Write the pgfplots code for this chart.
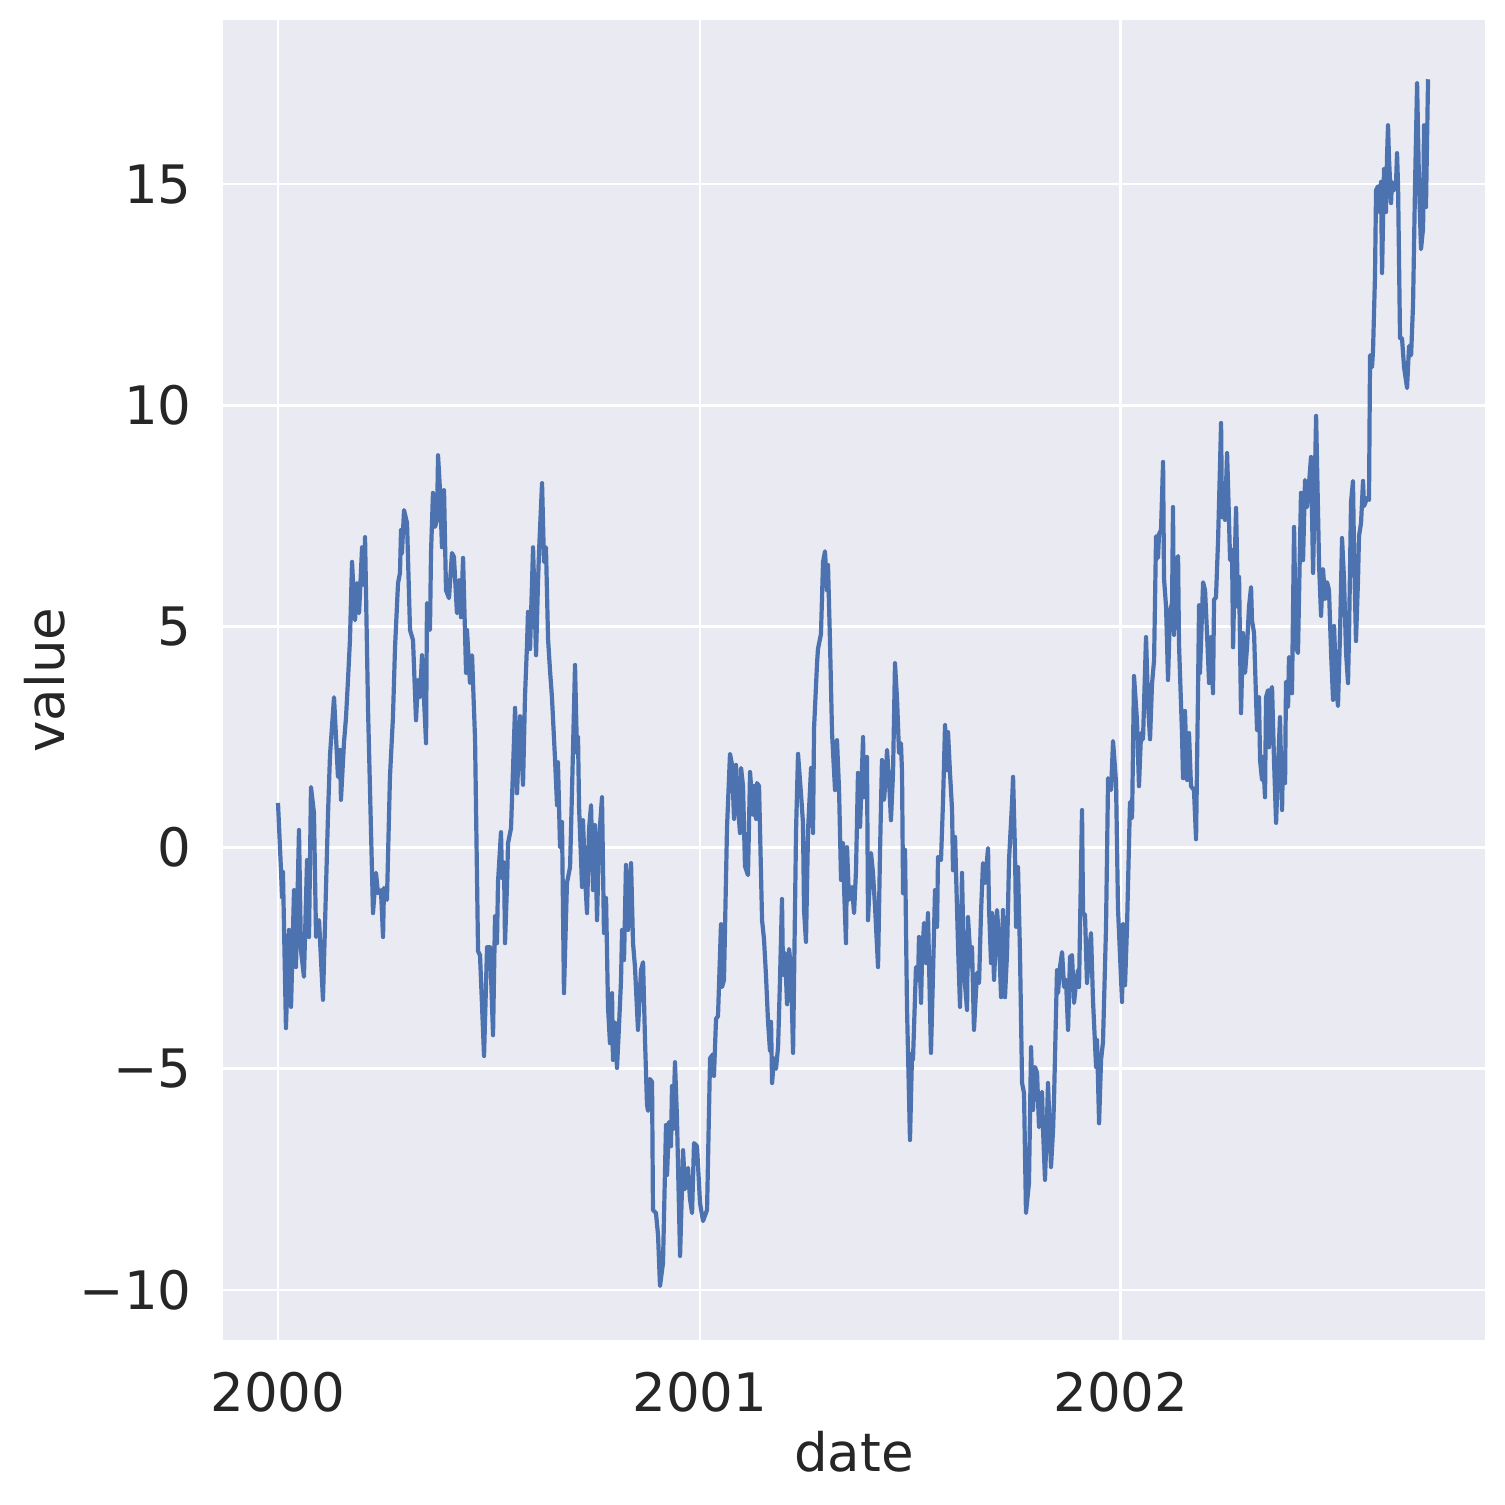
\documentclass[border=0pt]{standalone}
\usepackage{pgfplots}
\pgfplotsset{compat=1.18}
\usepackage{fontspec}
\setmainfont{DejaVu Sans}
\definecolor{sbbg}{HTML}{EAEAF2}
\definecolor{sbblue}{HTML}{4C72B0}
\definecolor{sbtext}{HTML}{262626}
\begin{document}
\begin{tikzpicture}
\useasboundingbox (0,0) rectangle (752.5bp,752.5bp);
\begin{axis}[
  at={(111.5bp,82.5bp)}, anchor=south west,
  width=631bp, height=660bp, scale only axis,
  xmin=-47.7, xmax=1046.8, ymin=-11.13, ymax=18.71,
  axis background/.style={fill=sbbg},
  axis line style={draw=none},
  major tick length=0pt,
  grid=major,
  grid style={white, line width=1.4bp},
  xtick={0,366,731}, xticklabels={2000,2001,2002},
  ytick={-10,-5,0,5,10,15}, yticklabels={−10,−5,0,5,10,15},
  ticklabel style={font=\fontsize{26.5bp}{32bp}\selectfont, text=sbtext},
  xticklabel style={inner sep=0pt, anchor=north, yshift=-16bp},
  yticklabel style={inner sep=0pt, anchor=east, xshift=-15.5bp},
  xlabel={date}, ylabel={value},
  label style={font=\fontsize{26.5bp}{32bp}\selectfont, text=sbtext},
  xlabel style={at={(axis description cs:0.5,-0.085)}, anchor=center, inner sep=0pt},
  ylabel style={at={(axis description cs:-0.141,0.5)}, anchor=center, rotate=0, inner sep=0pt},
  axis on top=false,
]
\addplot[sbblue, line width=2.1bp, line join=round, no marks] coordinates {
(0,1.01)(2.6,-0.51)(3.5,-1.12)(4.3,-0.55)(6.9,-4.08)(9.5,-1.86)(11.3,-3.60)(13.9,-0.96)(15.6,-2.70)(18.2,0.40)
(19.9,-2.31)(22.5,-2.92)(25.2,-0.28)(26.9,-2.02)(28.6,1.37)(31.2,0.78)(33.0,-2.02)(35.6,-1.64)(39.0,-3.44)(43.4,0.78)
(45.1,2.09)(48.6,3.40)(52.0,1.60)(53.8,2.21)(54.6,1.08)(57.2,2.36)(59.0,2.95)(60.7,3.79)(62.4,4.69)(64.2,6.46)
(66.8,5.14)(68.5,5.98)(70.3,5.30)(72.9,6.79)(74.6,5.94)(75.5,7.02)(78.1,3.11)(82.4,-1.48)(85.0,-0.57)(86.7,-1.03)
(89.3,-0.96)(91.1,-2.02)(91.9,-0.91)(94.5,-1.18)(97.1,1.60)(99.7,2.95)(101.5,4.53)(104.1,5.98)(105.8,6.21)(106.7,7.18)
(107.5,6.66)(109.3,7.63)(111.9,7.34)(114.5,4.92)(117.1,4.69)(119.7,2.88)(121.4,3.79)(123.2,3.40)(124.9,4.35)(128.4,2.36)
(129.2,5.53)(131.8,4.92)(132.7,6.66)(134.4,8.02)(136.2,7.25)(137.9,7.41)(138.8,8.87)(140.5,8.08)(142.2,6.79)(144.0,8.08)
(145.7,5.82)(148.3,5.64)(150.9,6.66)(152.6,6.57)(155.2,5.30)(157.0,6.05)(158.7,5.21)(160.5,6.55)(163.1,3.95)(163.9,4.92)
(166.5,3.72)(168.3,4.35)(170.9,2.45)(173.5,-2.34)(175.2,-2.43)(178.7,-4.71)(181.3,-2.25)(183.9,-2.25)(186.5,-4.24)(188.2,-1.55)
(189.9,-2.16)(190.8,-0.78)(193.4,0.35)(194.3,-0.69)(196.0,-0.33)(196.9,-2.16)(198.6,-0.85)(199.5,0.10)(202.1,0.44)(205.6,3.16)
(207.3,1.23)(209.9,2.97)(212.5,1.42)(214.2,3.40)(216.0,4.62)(216.8,5.33)(218.6,4.49)(221.2,6.79)(223.8,4.35)(225.5,6.00)
(226.4,6.70)(229.0,8.24)(230.7,6.46)(232.4,6.79)(234.2,4.72)(235.9,4.01)(237.6,3.40)(240.2,2.03)(242.0,0.96)(242.8,1.93)
(244.6,0.01)(246.3,0.58)(248.0,-3.29)(250.6,-0.80)(253.3,-0.44)(255.0,1.30)(257.6,4.13)(259.3,2.14)(260.2,2.50)(261.1,0.92)
(263.7,-0.89)(264.5,0.62)(266.3,-0.66)(268.0,-1.48)(269.7,0.40)(271.5,0.96)(273.2,-0.96)(274.9,0.51)(276.7,-1.64)(278.4,0.17)
(281.0,1.14)(282.7,-1.93)(284.5,-1.14)(286.2,-3.60)(287.9,-4.42)(289.7,-3.29)(290.5,-4.80)(292.3,-3.96)(294.0,-4.98)(295.7,-4.06)
(297.5,-2.99)(298.4,-1.86)(300.1,-2.54)(301.8,-0.39)(303.6,-1.86)(306.2,-0.35)(307.9,-2.16)(309.6,-2.70)(312.2,-4.12)(314.8,-2.77)
(316.6,-2.59)(318.3,-4.35)(320.0,-5.80)(320.9,-5.95)(322.6,-5.23)(324.4,-5.30)(325.2,-8.19)(327.8,-8.26)(329.6,-8.76)(331.3,-9.91)
(333.9,-9.39)(336.5,-6.27)(337.4,-7.40)(339.1,-6.20)(340.8,-6.75)(341.7,-5.39)(342.6,-6.36)(344.3,-4.85)(346.0,-6.11)(348.7,-9.23)
(351.3,-6.84)(353.0,-7.72)(355.6,-7.24)(357.3,-7.94)(359.1,-8.26)(360.8,-6.68)(363.4,-6.75)(366.0,-8.03)(368.6,-8.44)(372.1,-8.19)
(374.7,-4.76)(377.3,-4.67)(378.1,-5.16)(379.9,-3.87)(381.6,-3.81)(384.2,-1.73)(385.1,-3.15)(386.8,-2.99)(389.4,0.44)(392.0,2.12)
(393.8,1.87)(395.5,0.65)(397.2,1.87)(398.1,1.21)(400.7,0.33)(401.6,1.80)(403.3,1.39)(405.0,-0.42)(407.6,-0.62)(409.4,1.71)
(412.0,0.74)(412.8,1.39)(414.6,0.65)(415.4,1.46)(417.2,1.39)(419.8,-1.64)(421.5,-2.07)(423.2,-2.88)(425.0,-3.94)(426.7,-4.60)
(427.6,-3.94)(428.5,-5.32)(430.2,-4.76)(431.9,-5.00)(433.7,-4.51)(435.4,-2.95)(437.1,-1.16)(438.0,-2.88)(439.7,-2.38)(441.5,-3.54)
(443.2,-2.29)(444.9,-2.70)(446.7,-4.64)(449.3,0.40)(451.0,2.12)(453.6,1.21)(455.3,0.56)(456.2,-1.41)(457.9,-2.13)(459.7,0.40)
(462.3,1.80)(464.0,0.33)(464.9,2.70)(467.5,4.17)(468.3,4.49)(470.9,4.83)(472.7,6.46)(474.4,6.70)(476.1,5.82)(477.0,6.39)
(478.7,4.69)(480.5,2.59)(483.1,1.30)(484.8,2.43)(486.6,1.30)(488.3,-0.73)(490.0,0.10)(490.9,-0.89)(492.6,-2.16)(493.5,0.01)
(495.2,-1.18)(497.8,-0.89)(499.6,-1.48)(501.3,-0.51)(503.0,1.69)(504.8,0.47)(507.4,2.50)(508.2,1.14)(510.8,2.05)(511.7,-1.64)
(514.3,-0.12)(516.0,-0.57)(517.8,-1.34)(520.4,-2.70)(522.1,-0.12)(523.8,1.98)(525.6,1.08)(527.3,1.69)(528.2,2.21)(529.9,1.53)
(531.6,0.62)(533.4,1.69)(535.1,4.17)(536.9,3.34)(538.6,2.14)(540.3,2.36)(541.2,1.69)(542.1,-1.03)(543.8,-0.05)(545.5,-3.60)
(548.1,-6.61)(549.9,-4.64)(550.7,-4.80)(553.3,-2.70)(555.1,-2.99)(555.9,-2.02)(557.7,-3.51)(558.5,-2.54)(560.3,-1.70)(562.0,-2.61)
(563.7,-1.48)(566.3,-4.64)(568.1,-2.83)(569.8,-0.96)(571.6,-1.79)(572.4,-0.21)(575.0,-0.28)(576.8,1.08)(578.5,2.77)(580.2,1.75)
(581.1,2.61)(582.8,1.69)(584.6,0.85)(585.4,-0.51)(587.2,0.24)(589.8,-2.25)(591.5,-3.60)(593.2,-0.57)(595.0,-2.83)(597.6,-3.67)
(598.4,-1.57)(601.0,-2.70)(601.9,-2.25)(603.6,-4.12)(606.2,-2.83)(608.0,-3.06)(609.7,-1.48)(611.4,-0.35)(613.2,-0.80)(615.8,-0.01)
(616.6,-1.34)(618.4,-2.61)(619.3,-1.48)(621.0,-2.99)(623.6,-1.41)(625.3,-2.09)(627.1,-3.38)(628.8,-1.41)(630.5,-3.38)(632.3,-2.38)
(634.0,-0.28)(636.6,1.01)(637.5,1.60)(639.2,-0.12)(640.1,-1.79)(641.8,-0.44)(643.5,-2.38)(645.3,-5.32)(647.0,-5.55)(648.7,-8.26)
(651.3,-7.58)(653.1,-4.51)(654.8,-5.93)(656.5,-4.96)(658.3,-5.09)(660.0,-6.32)(662.6,-5.52)(663.5,-6.38)(665.2,-7.51)(667.0,-6.09)
(667.8,-5.32)(670.4,-7.22)(672.2,-6.38)(673.0,-5.71)(675.6,-2.77)(676.5,-3.29)(678.2,-2.70)(680.0,-2.36)(681.7,-3.15)(683.4,-2.99)
(685.2,-4.12)(686.9,-2.47)(688.6,-2.43)(690.4,-3.51)(692.1,-3.06)(693.8,-2.77)(694.7,-3.15)(697.3,0.85)(698.2,-1.48)(699.9,-1.52)
(701.6,-3.06)(703.4,-2.38)(705.1,-1.93)(706.8,-3.44)(709.5,-4.96)(710.3,-4.35)(712.1,-6.23)(713.8,-4.80)(715.5,-4.39)(718.1,-1.82)
(719.9,1.57)(722.5,1.30)(724.2,2.41)(726.8,1.48)(728.5,-1.37)(732.0,-3.49)(732.9,-1.73)(734.6,-3.11)(736.3,-1.82)(738.9,1.03)
(740.7,0.67)(742.4,3.88)(745.0,2.86)(746.7,1.39)(748.5,2.59)(750.2,2.45)(752.8,4.76)(754.6,3.22)(756.3,2.45)(758.0,3.70)
(759.8,4.24)(761.5,7.04)(763.2,6.55)(764.1,7.09)(765.8,7.18)(767.6,8.72)(768.4,6.09)(770.2,5.44)(771.9,3.79)(773.6,5.35)
(775.4,5.53)(776.2,7.70)(777.1,4.81)(778.8,6.46)(780.6,6.59)(781.4,4.62)(784.0,2.59)(784.9,1.57)(786.6,3.09)(788.4,1.53)
(790.1,2.59)(791.8,1.39)(794.4,1.30)(796.2,0.19)(797.9,3.52)(798.8,5.48)(799.6,3.95)(802.3,6.00)(804.0,5.82)(805.7,4.85)
(807.5,3.72)(809.2,4.76)(810.9,3.49)(811.8,5.60)(813.5,5.66)(815.3,6.95)(817.9,9.60)(818.7,7.47)(820.5,8.24)(821.3,7.41)
(823.1,8.92)(823.9,8.24)(825.7,6.50)(827.4,6.73)(828.3,4.53)(830.0,6.73)(830.9,7.68)(832.6,5.44)(833.5,6.12)(835.2,3.04)
(836.9,4.85)(838.7,3.95)(840.4,4.53)(842.1,5.44)(843.9,5.89)(844.7,5.14)(846.5,4.85)(848.2,3.40)(849.1,2.66)(850.8,3.40)
(851.7,1.98)(853.4,1.53)(854.3,2.05)(856.0,1.14)(856.9,3.40)(858.6,3.56)(859.5,2.27)(861.2,3.56)(862.1,3.63)(863.8,1.98)
(865.6,0.56)(867.3,1.82)(869.0,2.95)(870.8,0.85)(871.6,2.14)(873.4,1.46)(874.2,3.74)(876.0,3.18)(876.8,4.31)(879.4,3.49)
(881.2,7.25)(882.9,4.53)(884.6,4.40)(887.2,8.02)(889.0,6.50)(890.7,8.31)(892.5,7.70)(894.2,8.24)(895.9,8.83)(897.7,6.21)
(900.3,9.76)(902.9,6.39)(904.6,5.24)(906.3,6.30)(908.1,5.62)(909.8,6.00)(911.5,5.82)(913.3,4.40)(915.0,3.34)(915.9,5.01)
(917.6,3.72)(919.3,3.20)(921.1,4.87)(922.8,7.00)(924.5,6.09)(926.3,4.40)(928.0,3.72)(928.9,4.87)(930.6,7.81)(932.3,8.29)
(933.2,6.68)(934.9,4.67)(936.7,6.09)(937.5,7.04)(939.3,7.34)(941.0,8.29)(941.9,7.72)(944.5,7.90)(946.2,7.86)(947.1,11.13)
(948.8,10.86)(949.7,11.25)(951.4,12.94)(952.3,14.86)(954.0,14.95)(954.9,14.37)(956.6,15.05)(957.5,12.99)(959.2,15.34)(960.9,14.37)
(961.8,15.61)(962.7,16.33)(963.5,15.61)(965.3,14.57)(966.1,15.05)(967.9,14.86)(969.6,15.00)(970.5,15.70)(971.4,14.95)(973.1,11.52)
(974.8,11.52)(976.6,10.86)(979.2,10.39)(980.9,11.34)(982.7,11.13)(984.4,12.29)(986.1,14.95)(987.9,17.28)(989.6,14.95)(991.3,13.53)
(993.1,14.01)(993.9,16.33)(995.6,14.48)(997.4,17.37)
};
\end{axis}
\end{tikzpicture}
\end{document}
